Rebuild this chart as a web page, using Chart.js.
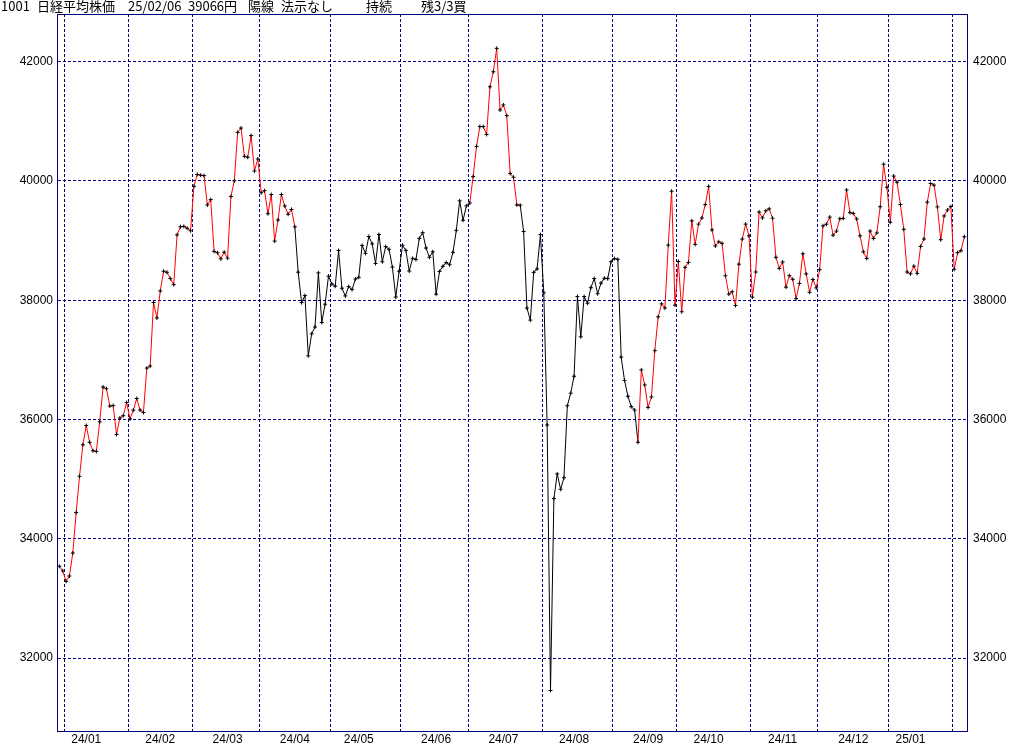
<!DOCTYPE html>
<html><head><meta charset="utf-8">
<script src="https://cdn.jsdelivr.net/npm/chart.js@4/dist/chart.umd.min.js"></script>
<style>
html,body{margin:0;padding:0;background:#fff;}
#wrap{position:relative;width:1024px;height:745px;overflow:hidden;}
canvas{position:absolute;left:0;top:0;}
.hd{position:absolute;top:-2px;font-family:"Noto Sans CJK JP";font-size:13px;line-height:16px;color:#000;white-space:pre;}
</style></head><body>
<div id="wrap">
<canvas id="c" width="1024" height="745"></canvas>
<span class="hd" style="left:1px">1001</span>
<span class="hd" style="left:37px">日経平均株価</span>
<span class="hd" style="left:128px">25/02/06</span>
<span class="hd" style="left:188px">39066円</span>
<span class="hd" style="left:248px">陽線</span>
<span class="hd" style="left:281px">法示なし</span>
<span class="hd" style="left:366px">持続</span>
<span class="hd" style="left:421px">残3/3買</span>
</div>
<script>
// ---- categories: trading days grouped by month ----
const months = ['23/12','24/01','24/02','24/03','24/04','24/05','24/06','24/07','24/08','24/09','24/10','24/11','24/12','25/01','25/02'];
const tradeDays = [
 [27,28],
 [4,5,9,10,11,12,15,16,17,18,19,22,23,24,25,26,29,30,31],
 [1,2,5,6,7,8,9,13,14,15,16,19,20,21,22,26,27,28,29],
 [1,4,5,6,7,8,11,12,13,14,15,18,19,21,22,25,26,27,28,29],
 [1,2,3,4,5,8,9,10,11,12,15,16,17,18,19,22,23,24,25,26,30],
 [1,2,7,8,9,10,13,14,15,16,17,20,21,22,23,24,27,28,29,30,31],
 [3,4,5,6,7,10,11,12,13,14,17,18,19,20,21,24,25,26,27,28],
 [1,2,3,4,5,8,9,10,11,12,16,17,18,19,22,23,24,25,26,29,30,31],
 [1,2,5,6,7,8,9,13,14,15,16,19,20,21,22,23,26,27,28,29,30],
 [2,3,4,5,6,9,10,11,12,13,17,18,19,20,24,25,26,27,30],
 [1,2,3,4,7,8,9,10,11,15,16,17,18,21,22,23,24,25,28,29,30,31],
 [1,5,6,7,8,11,12,13,14,15,18,19,20,21,22,25,26,27,28,29],
 [2,3,4,5,6,9,10,11,12,13,16,17,18,19,20,23,24,25,26,27,30],
 [6,7,8,9,10,14,15,16,17,20,21,22,23,24,27,28,29,30,31],
 [3,4,5,6]
];
// ---- series: daily close ----
const closes = [
 33540,33464,
 33288,33377,33763,34441,35049,35577,35901,35619,35477,35466,35963,36546,36517,36226,36236,35751,36026,36065,36286,
 36011,36158,36354,36160,36119,36863,36897,37963,37703,38157,38487,38470,38363,38262,39098,39233,39239,39208,39166,
 39910,40109,40097,40090,39598,39688,38820,38797,38695,38807,38707,39740,40003,40815,40888,40414,40398,40762,40168,40369,
 39803,39838,39451,39773,38992,39347,39773,39581,39442,39523,39232,38471,37961,38079,37068,37438,37552,38460,37628,37934,38405,
 38274,38236,38835,38202,38073,38229,38179,38356,38385,38920,38787,39069,38946,38617,39103,38646,38900,38855,38556,38054,38487,
 38923,38837,38490,38703,38683,39038,39134,38876,38720,38814,38102,38482,38570,38633,38596,38804,39173,39667,39341,39583,
 39631,40074,40580,40913,40912,40780,41580,41831,42224,41190,41275,41097,40126,40063,39599,39594,39154,37869,37667,38468,38526,39101,
 38126,35909,31458,34675,35089,34831,35025,36232,36442,36726,38062,37388,38062,37951,38211,38364,38110,38288,38371,38362,38647,
 38700,38686,37047,36657,36391,36216,36159,35619,36833,36581,36203,36380,37155,37723,37940,37870,38925,39829,37919,
 38651,37808,38552,38635,39332,38937,39277,39380,39605,39910,39180,38911,38981,38954,38411,38104,38143,37913,38605,39027,39277,39081,
 38053,38474,39480,39381,39500,39533,39376,38721,38535,38642,38220,38414,38352,38026,38283,38780,38442,38134,38349,38208,
 38513,39248,39276,39395,39091,39160,39367,39372,39849,39470,39457,39364,39081,38813,38701,39161,39036,39130,39568,40281,39894,
 39307,40083,39981,39605,39190,38474,38444,38572,38451,38902,39027,39646,39958,39931,39565,39016,39414,39513,39572,
 38520,38798,38831,39066
];
// ---- holding periods (segment start index ranges drawn red) ----
const holdStart = [0, 122, 172];
const holdEnd   = [69, 136, 268];
// ---- tick labels ----
const yTicks = [32000,34000,36000,38000,40000,42000];

// build category helpers from data
const labels = [];
const monthStart = [], monthMid = [], monthMidLabel = [];
let idx = 0;
months.forEach((m, mi) => {
  const days = tradeDays[mi];
  if (mi > 0) monthStart.push(idx);
  const k = days.findIndex(d => d >= 15);
  if (k >= 0 && days[0] <= 15) { monthMid.push(idx + k); monthMidLabel.push(m); }
  days.forEach(d => labels.push(m + '/' + String(d).padStart(2, '0')));
  idx += days.length;
});
const isHold = i => holdStart.some((s, j) => i >= s && i <= holdEnd[j]);

const NAVY = '#000080';
const XMIN = -0.4, XMAX = closes.length - 0.2;
const YMIN = 30765, YMAX = 42800;
const tickFont = {family: 'Liberation Sans', size: 12};

const frame = {
  id: 'frame',
  afterDraw(chart) {
    const {ctx, chartArea: a} = chart;
    ctx.save();
    ctx.strokeStyle = NAVY;
    ctx.lineWidth = 1;
    ctx.strokeRect(Math.round(a.left) - 0.5, Math.round(a.top) + 0.5, Math.round(a.right - a.left) + 1, Math.round(a.bottom - a.top) - 1);
    ctx.restore();
  }
};

new Chart(document.getElementById('c'), {
  type: 'line',
  data: {
    labels,
    datasets: [{
      data: closes.map((v, i) => ({x: i, y: v})),
      xAxisID: 'x', yAxisID: 'y',
      borderColor: '#000', borderWidth: 1, tension: 0,
      pointStyle: 'cross', pointRadius: 2, pointHoverRadius: 2,
      pointBorderColor: '#000', pointBackgroundColor: '#000', pointBorderWidth: 1,
      segment: { borderColor: c => isHold(c.p0DataIndex) ? '#ff0000' : '#000000' },
      clip: 2
    }]
  },
  options: {
    responsive: false, animation: false, events: [],
    layout: {padding: {top: 14, left: 0, right: 0, bottom: 0}},
    plugins: {legend: {display: false}, tooltip: {enabled: false}, title: {display: false}},
    scales: {
      x: {
        type: 'linear', position: 'bottom', min: XMIN, max: XMAX,
        afterBuildTicks: s => { s.ticks = monthStart.map(i => ({value: i - 0.5})); },
        ticks: {display: false},
        grid: {color: NAVY, lineWidth: 1, drawTicks: false, borderDash: [3, 2]},
        border: {display: false, dash: [3, 2]},
        afterFit: s => { s.height = 0; }
      },
      xl: {
        type: 'linear', position: 'bottom', min: XMIN, max: XMAX,
        afterBuildTicks: s => { s.ticks = monthMid.map(i => ({value: i})); },
        ticks: {autoSkip: false, maxRotation: 0, padding: 1, color: '#000', font: tickFont,
                callback: (v, i) => monthMidLabel[i]},
        grid: {display: false, drawTicks: false},
        border: {display: false},
        afterFit: s => { s.height = 13; }
      },
      y: {
        position: 'left', min: YMIN, max: YMAX,
        afterBuildTicks: s => { s.ticks = yTicks.map(v => ({value: v})); },
        ticks: {padding: 5, color: '#000', font: tickFont, callback: v => String(v)},
        grid: {color: NAVY, lineWidth: 1, drawTicks: false, borderDash: [3, 2]},
        border: {display: false, dash: [3, 2]},
        afterFit: s => { s.width = 58; }
      },
      y2: {
        position: 'right', min: YMIN, max: YMAX,
        afterBuildTicks: s => { s.ticks = yTicks.map(v => ({value: v})); },
        ticks: {padding: 6, color: '#000', font: tickFont, callback: v => String(v)},
        grid: {display: false, drawTicks: false},
        border: {display: false},
        afterFit: s => { s.width = 57; }
      }
    }
  },
  plugins: [frame]
});
</script>
</body></html>
